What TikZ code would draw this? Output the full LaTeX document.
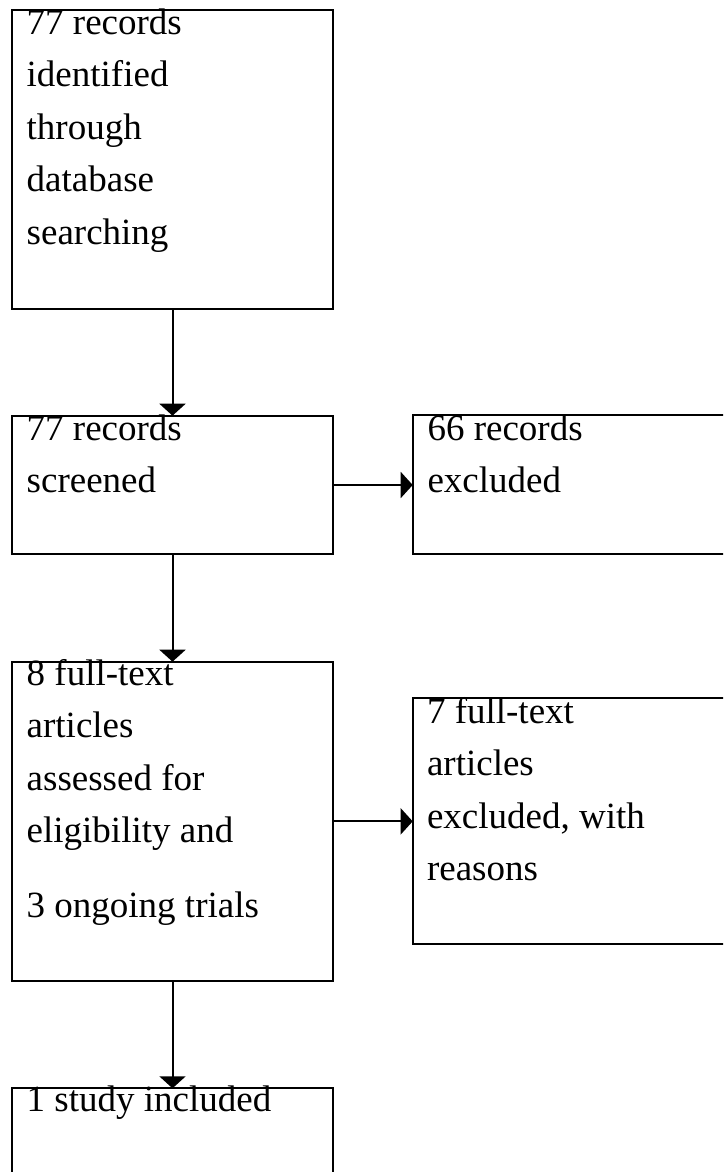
\documentclass[tikz,border=0pt]{standalone}
\usepackage{fontspec}
\setmainfont{Liberation Serif}
\usetikzlibrary{arrows.meta}
\begin{document}
\begin{tikzpicture}[x=1pt,y=-1pt,
  box/.style={draw, line width=2pt, inner sep=0pt, outer sep=0pt, anchor=north west, minimum width=320.4pt},
  txt/.style={anchor=north west, inner sep=0pt, outer sep=0pt, align=left, font=\fontsize{37}{52.5}\selectfont},
  arr/.style={line width=2pt, -{Triangle[width=26pt,length=12pt]}}]
\useasboundingbox (0,0) rectangle (723,1172);
\begin{scope}
\clip (0,0) rectangle (723,1172);
\node[box, minimum height=298.6pt] (b1) at (12.3,10) {};
\node[box, minimum height=138.6pt] (b2) at (12.3,415.7) {};
\node[box, minimum height=138.7pt] (b3) at (412.7,415.3) {};
\node[box, minimum height=319.3pt] (b4) at (12.3,661.7) {};
\node[box, minimum height=245.7pt] (b5) at (412.7,698.3) {};
\node[box, minimum height=120pt] (b6) at (12.3,1088.3) {};
\node[txt] (t1) at (26.7,4.3) {\rule{0pt}{30pt}77 records\\identified\\through\\database\\searching};
\node[txt] (t2) at (26.7,410) {\rule{0pt}{30pt}77 records\\screened};
\node[txt] (t3) at (427.5,410) {\rule{0pt}{30pt}66 records\\excluded};
\node[txt] (t4) at (26.7,655) {\rule{0pt}{30pt}8 full-text\\articles\\assessed for\\eligibility and\\[22.5pt]3 ongoing trials};
\node[txt] (t5) at (427,693.3) {\rule{0pt}{30pt}7 full-text\\articles\\excluded, with\\reasons};
\node[txt] (t6) at (26.7,1081.7) {\rule{0pt}{30pt}1 study included};
\draw[arr] (b1.south) -- (b2.north);
\draw[arr] (b2.south) -- (b4.north);
\draw[arr] (b4.south) -- (b6.north);
\draw[arr] (b2.east) -- (b2.east -| b3.west);
\draw[arr] (b4.east) -- (b4.east -| b5.west);
\end{scope}
\end{tikzpicture}
\end{document}
